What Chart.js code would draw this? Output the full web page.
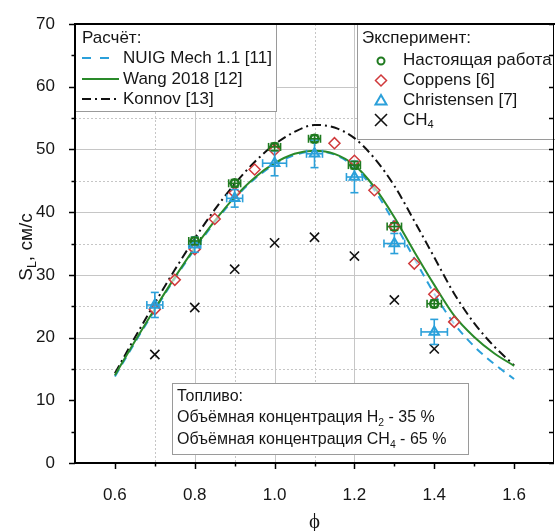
<!DOCTYPE html>
<html>
<head>
<meta charset="utf-8">
<script src="https://cdn.jsdelivr.net/npm/chart.js@4.4.1/dist/chart.umd.min.js"></script>
<style>
  html, body { margin: 0; padding: 0; background: #fff; }
  canvas { display: block; }
</style>
</head>
<body>
<canvas id="slChart" width="555" height="531"></canvas>
<script>
// Расчёт: скорость пламени по трём механизмам
const phiCalc = [0.6, 0.65, 0.7, 0.75, 0.8, 0.85, 0.9, 0.95, 1.0, 1.05, 1.1,
                 1.15, 1.2, 1.25, 1.3, 1.35, 1.4, 1.45, 1.5, 1.55, 1.6];
const sNuig   = [13.8, 19.2, 24.4, 29.4, 34.1, 38.4, 42.2, 45.3, 47.6, 49.1, 49.7,
                 49.2, 47.2, 43.5, 38.3, 32.6, 27.0, 22.2, 18.6, 15.8, 13.4];
const sWang   = [14.0, 19.4, 24.6, 29.6, 34.3, 38.6, 42.4, 45.5, 47.8, 49.3, 49.8,
                 49.3, 47.5, 44.0, 39.2, 33.7, 28.4, 23.5, 20.1, 17.5, 15.5];
const sKonnov = [14.3, 20.0, 25.5, 30.8, 35.8, 40.4, 44.5, 48.0, 50.8, 52.8, 53.9,
                 53.5, 51.8, 48.6, 44.2, 38.6, 32.8, 27.0, 22.3, 18.6, 15.6];

// Эксперимент: настоящая работа
const phiWork  = [0.8, 0.9, 1.0, 1.1, 1.2, 1.3, 1.4];
const sWork    = [35.4, 44.6, 50.4, 51.7, 47.5, 37.7, 25.4];
const xErrWork = [0.015, 0.015, 0.015, 0.015, 0.015, 0.018, 0.018];
const yErrWork = [0.6, 0.6, 0.6, 0.6, 0.6, 0.6, 0.6];

// Coppens [6]
const phiCoppens = [0.7, 0.75, 0.8, 0.85, 0.9, 0.95, 1.0, 1.15, 1.2, 1.25, 1.3, 1.35, 1.4, 1.45];
const sCoppens   = [24.5, 29.2, 34.1, 38.9, 43.1, 46.8, 49.9, 51.0, 48.2, 43.5, 37.7, 31.8, 26.9, 22.5];

// Christensen [7]
const phiChrist  = [0.7, 0.8, 0.9, 1.0, 1.1, 1.2, 1.3, 1.4];
const sChrist    = [25.2, 34.8, 42.2, 47.8, 49.3, 45.6, 35.0, 20.9];
const xErrChrist = [0.02, 0.015, 0.02, 0.03, 0.02, 0.02, 0.026, 0.033];
const yErrChrist = [2.0, 1.2, 1.4, 2.0, 2.2, 2.5, 1.6, 2.0];

// чистый метан
const phiCh4 = [0.7, 0.8, 0.9, 1.0, 1.1, 1.2, 1.3, 1.4];
const sCh4   = [17.3, 24.8, 30.9, 35.1, 36.0, 33.0, 26.0, 18.2];

const xTicks = [0.6, 0.8, 1.0, 1.2, 1.4, 1.6];
const yTicks = [0, 10, 20, 30, 40, 50, 60, 70];

const FONT = '"Liberation Sans", Arial, sans-serif';
const BLUE = '#2ba0da';
const RED = '#d0393b';
const GREEN = '#2a8a2a';
const GREEN_D = '#1f7a1f';
const INK = '#161616';

function pts(xs, ys) {
  return xs.map((x, i) => ({ x: x, y: ys[i] }));
}

function seg(ctx, x1, y1, x2, y2) {
  ctx.beginPath();
  ctx.moveTo(x1, y1);
  ctx.lineTo(x2, y2);
  ctx.stroke();
}

// текст с нижними индексами: [['CH'], ['4', true], ...]
function richWidth(ctx, parts, size) {
  let w = 0;
  parts.forEach(p => {
    ctx.font = (p[1] ? size * 0.65 : size) + 'px ' + FONT;
    w += ctx.measureText(p[0]).width;
  });
  return w;
}
function drawRich(ctx, parts, x, y, size) {
  ctx.textBaseline = 'middle';
  ctx.textAlign = 'left';
  parts.forEach(p => {
    const s = p[1] ? size * 0.65 : size;
    ctx.font = s + 'px ' + FONT;
    ctx.fillText(p[0], x, p[1] ? y + size * 0.3 : y);
    x += ctx.measureText(p[0]).width;
  });
}

function errorBars(ctx, xs, ys, sx, sy, xe, ye, color) {
  ctx.strokeStyle = color;
  ctx.lineWidth = 1.6;
  xs.forEach((v, i) => {
    const px = sx.getPixelForValue(v);
    const py = sy.getPixelForValue(ys[i]);
    if (xe[i]) {
      const l = sx.getPixelForValue(v - xe[i]);
      const r = sx.getPixelForValue(v + xe[i]);
      seg(ctx, l, py, r, py);
      seg(ctx, l, py - 4, l, py + 4);
      seg(ctx, r, py - 4, r, py + 4);
    }
    if (ye[i]) {
      const t = sy.getPixelForValue(ys[i] + ye[i]);
      const b = sy.getPixelForValue(ys[i] - ye[i]);
      seg(ctx, px, t, px, b);
      seg(ctx, px - 4, t, px + 4, t);
      seg(ctx, px - 4, b, px + 4, b);
    }
  });
}

function box(ctx, x, y, w, h) {
  ctx.fillStyle = '#fff';
  ctx.fillRect(x, y, w, h);
  ctx.strokeStyle = '#9a9a9a';
  ctx.lineWidth = 1;
  ctx.setLineDash([]);
  ctx.strokeRect(x + 0.5, y + 0.5, w - 1, h - 1);
}

const decor = {
  id: 'decor',
  beforeDatasetsDraw(chart) {
    const { ctx, chartArea: a, scales: { x, y } } = chart;
    ctx.save();
    ctx.lineWidth = 1;
    ctx.strokeStyle = '#c6c6c6';
    for (let v = 15; v <= 60; v += 5) {
      const py = Math.round(y.getPixelForValue(v)) + 0.5;
      ctx.setLineDash(v % 10 === 0 ? [] : [2, 2]);
      seg(ctx, a.left, py, a.right, py);
    }
    for (let i = 7; i <= 12; i++) {
      const px = Math.round(x.getPixelForValue(i / 10)) + 0.5;
      ctx.setLineDash(i % 2 === 0 ? [] : [2, 2]);
      seg(ctx, px, a.top, px, a.bottom);
    }
    ctx.restore();
  },
  afterDatasetsDraw(chart) {
    const { ctx, scales: { x, y } } = chart;
    ctx.save();
    errorBars(ctx, phiChrist, sChrist, x, y, xErrChrist, yErrChrist, BLUE);
    errorBars(ctx, phiWork, sWork, x, y, xErrWork, yErrWork, GREEN_D);
    ctx.restore();
  },
  afterDraw(chart) {
    const { ctx, chartArea: a, scales: { x, y } } = chart;
    ctx.save();

    // легенда: расчёт
    box(ctx, a.left, a.top, 202, 88);
    ctx.fillStyle = INK;
    drawRich(ctx, [['Расчёт:']], 82, 38, 17);
    drawRich(ctx, [['NUIG Mech 1.1 [11]']], 123, 58, 17);
    drawRich(ctx, [['Wang 2018 [12]']], 123, 79, 17);
    drawRich(ctx, [['Konnov [13]']], 123, 99, 17);
    ctx.lineWidth = 2;
    ctx.strokeStyle = BLUE;
    ctx.setLineDash([9, 9]);
    seg(ctx, 82, 58, 118, 58);
    ctx.strokeStyle = GREEN;
    ctx.setLineDash([]);
    seg(ctx, 82, 79, 119, 79);
    ctx.strokeStyle = '#111';
    ctx.setLineDash([9, 4, 2, 4]);
    seg(ctx, 82, 99, 119, 99);
    ctx.setLineDash([]);

    // легенда: эксперимент
    box(ctx, 357, a.top, 200, 116);
    ctx.fillStyle = INK;
    drawRich(ctx, [['Эксперимент:']], 362, 38, 17);
    drawRich(ctx, [['Настоящая работа']], 403, 60, 17);
    drawRich(ctx, [['Coppens [6]']], 403, 80, 17);
    drawRich(ctx, [['Christensen [7]']], 403, 100, 17);
    drawRich(ctx, [['CH'], ['4', true]], 403, 120, 17);
    const mx = 381;
    ctx.lineWidth = 2;
    ctx.strokeStyle = GREEN_D;
    ctx.beginPath(); ctx.arc(mx, 61, 3.5, 0, Math.PI * 2); ctx.stroke();
    ctx.lineWidth = 1.5;
    ctx.strokeStyle = RED;
    ctx.beginPath();
    ctx.moveTo(mx, 75); ctx.lineTo(mx + 5.5, 80.5); ctx.lineTo(mx, 86); ctx.lineTo(mx - 5.5, 80.5);
    ctx.closePath(); ctx.stroke();
    ctx.lineWidth = 2;
    ctx.strokeStyle = BLUE;
    ctx.beginPath();
    ctx.moveTo(mx, 95); ctx.lineTo(mx + 5.5, 104.5); ctx.lineTo(mx - 5.5, 104.5);
    ctx.closePath(); ctx.stroke();
    ctx.lineWidth = 1.6;
    ctx.strokeStyle = '#111';
    seg(ctx, mx - 6, 114, mx + 6, 126);
    seg(ctx, mx + 6, 114, mx - 6, 126);

    // состав топлива
    box(ctx, 172, 383, 297, 72);
    ctx.fillStyle = INK;
    drawRich(ctx, [['Топливо:']], 177, 397, 16);
    drawRich(ctx, [['Объёмная концентрация H'], ['2', true], [' - 35 %']], 177, 418, 16);
    drawRich(ctx, [['Объёмная концентрация CH'], ['4', true], [' - 65 %']], 177, 440, 16);

    // рамка осей
    ctx.strokeStyle = '#000';
    ctx.lineWidth = 2;
    seg(ctx, a.left, a.top, 555, a.top);
    seg(ctx, a.left, a.top - 1, a.left, a.bottom + 1);
    seg(ctx, a.left - 1, a.bottom, a.right, a.bottom);
    ctx.lineWidth = 1;
    seg(ctx, a.right - 0.5, a.top, a.right - 0.5, a.bottom);

    // деления
    ctx.lineWidth = 1.5;
    for (let v = 0; v <= 70; v += 5) {
      const py = Math.round(y.getPixelForValue(v)) + 0.5;
      seg(ctx, a.left, py, a.left - (v % 10 === 0 ? 6 : 3.5), py);
      seg(ctx, a.right, py, a.right - 5, py);
    }
    for (let i = 6; i <= 16; i++) {
      const px = Math.round(x.getPixelForValue(i / 10)) + 0.5;
      seg(ctx, px, a.bottom, px, a.bottom + (i % 2 === 0 ? 6 : 3.5));
    }

    // подписи осей
    ctx.fillStyle = INK;
    ctx.save();
    ctx.translate(27, 247);
    ctx.rotate(-Math.PI / 2);
    const ttl = [['S'], ['L', true], [', см/с']];
    drawRich(ctx, ttl, -richWidth(ctx, ttl, 19) / 2, 0, 19);
    ctx.restore();
    ctx.font = '21px "Liberation Serif", "DejaVu Serif", serif';
    ctx.textAlign = 'center';
    ctx.textBaseline = 'middle';
    ctx.fillText('ϕ', (a.left + a.right) / 2, 522);

    ctx.restore();
  }
};

new Chart(document.getElementById('slChart'), {
  type: 'scatter',
  data: {
    datasets: [
      {
        label: 'CH4',
        data: pts(phiCh4, sCh4),
        pointStyle: 'crossRot',
        pointRadius: 6.5,
        borderColor: '#111',
        backgroundColor: '#111',
        borderWidth: 1.6
      },
      {
        label: 'Christensen [7]',
        data: pts(phiChrist, sChrist),
        pointStyle: 'triangle',
        pointRadius: 5.5,
        borderColor: BLUE,
        backgroundColor: 'rgba(0,0,0,0)',
        borderWidth: 2
      },
      {
        label: 'Coppens [6]',
        data: pts(phiCoppens, sCoppens),
        pointStyle: 'rectRot',
        pointRadius: 5.5,
        borderColor: RED,
        backgroundColor: 'rgba(255,255,255,0.6)',
        borderWidth: 1.5
      },
      {
        label: 'Настоящая работа',
        data: pts(phiWork, sWork),
        pointStyle: 'circle',
        pointRadius: 4,
        borderColor: GREEN_D,
        backgroundColor: 'rgba(0,0,0,0)',
        borderWidth: 2.5
      },
      {
        label: 'Wang 2018 [12]',
        data: pts(phiCalc, sWang),
        showLine: true,
        pointRadius: 0,
        borderColor: GREEN,
        borderWidth: 2,
        cubicInterpolationMode: 'monotone'
      },
      {
        label: 'NUIG Mech 1.1 [11]',
        data: pts(phiCalc, sNuig),
        showLine: true,
        pointRadius: 0,
        borderColor: BLUE,
        borderWidth: 2,
        borderDash: [8, 6],
        cubicInterpolationMode: 'monotone'
      },
      {
        label: 'Konnov [13]',
        data: pts(phiCalc, sKonnov),
        showLine: true,
        pointRadius: 0,
        borderColor: '#111',
        borderWidth: 2,
        borderDash: [9, 4, 2, 4],
        cubicInterpolationMode: 'monotone'
      }
    ]
  },
  options: {
    responsive: false,
    animation: false,
    devicePixelRatio: 1,
    layout: {
      autoPadding: false,
      padding: { top: 24, right: 1, left: 0, bottom: 0 }
    },
    plugins: {
      legend: { display: false },
      tooltip: { enabled: false }
    },
    scales: {
      x: {
        type: 'linear',
        min: 0.5,
        max: 1.7,
        grid: { display: false },
        border: { display: false },
        afterBuildTicks: s => { s.ticks = xTicks.map(v => ({ value: v })); },
        afterFit: s => { s.height = 68; },
        ticks: {
          padding: 14,
          color: INK,
          maxRotation: 0,
          autoSkip: false,
          font: { family: FONT, size: 17 },
          callback: v => v.toFixed(1)
        }
      },
      y: {
        min: 0,
        max: 70,
        grid: { display: false },
        border: { display: false },
        afterBuildTicks: s => { s.ticks = yTicks.map(v => ({ value: v })); },
        afterFit: s => { s.width = 75; },
        ticks: {
          padding: 12,
          color: INK,
          font: { family: FONT, size: 17 },
          callback: v => String(v)
        }
      }
    }
  },
  plugins: [decor]
});
</script>
</body>
</html>
